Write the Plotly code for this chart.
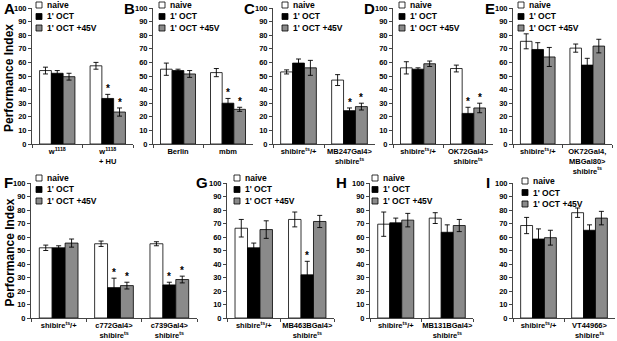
import plotly.graph_objects as go

# ---------------- data ----------------
series_names = ["naive", "1' OCT", "1' OCT +45V"]
series_colors = ["#ffffff", "#000000", "#8a8a8a"]
ST = "shibire<sup>ts</sup>"

cats_A = ["w<sup>1118</sup>", "w<sup>1118</sup><br>+ HU"]
naive_A = [54.0, 57.5]; oct_A = [52.0, 33.5]; v45_A = [49.5, 23.5]
naive_err_A = [2.5, 2.5]; oct_err_A = [2.0, 3.0]; v45_err_A = [2.5, 3.0]
stars_A = [[0, 0, 0], [0, 1, 1]]

cats_B = ["Berlin", "mbm"]
naive_B = [55.0, 52.5]; oct_B = [54.0, 30.0]; v45_B = [51.5, 25.5]
naive_err_B = [4.5, 3.0]; oct_err_B = [1.0, 3.5]; v45_err_B = [2.5, 1.5]
stars_B = [[0, 0, 0], [0, 1, 1]]

cats_C = [ST + "/+", "MB247Gal4><br>" + ST]
naive_C = [53.0, 47.0]; oct_C = [59.5, 24.5]; v45_C = [56.0, 27.5]
naive_err_C = [1.5, 4.0]; oct_err_C = [3.0, 2.0]; v45_err_C = [5.5, 2.5]
stars_C = [[0, 0, 0], [0, 1, 1]]

cats_D = [ST + "/+", "OK72Gal4><br>" + ST]
naive_D = [56.0, 55.5]; oct_D = [55.0, 22.5]; v45_D = [59.0, 26.5]
naive_err_D = [4.5, 2.5]; oct_err_D = [1.0, 4.5]; v45_err_D = [2.0, 3.5]
stars_D = [[0, 0, 0], [0, 1, 1]]

cats_E = [ST + "/+", "OK72Gal4,<br>MBGal80><br>" + ST]
naive_E = [75.5, 70.5]; oct_E = [69.5, 58.0]; v45_E = [64.0, 72.0]
naive_err_E = [5.5, 3.0]; oct_err_E = [5.0, 5.0]; v45_err_E = [7.0, 5.0]
stars_E = [[0, 0, 0], [0, 0, 0]]

cats_F = [ST + "/+", "c772Gal4><br>" + ST, "c739Gal4><br>" + ST]
naive_F = [52.0, 55.0, 55.0]; oct_F = [52.0, 22.5, 24.5]; v45_F = [55.5, 24.0, 28.5]
naive_err_F = [2.0, 2.0, 1.5]; oct_err_F = [1.5, 7.0, 2.0]; v45_err_F = [3.0, 2.5, 2.5]
stars_F = [[0, 0, 0], [0, 1, 1], [0, 1, 1]]

cats_G = [ST + "/+", "MB463BGal4><br>" + ST]
naive_G = [66.5, 73.0]; oct_G = [52.0, 32.0]; v45_G = [65.5, 71.5]
naive_err_G = [6.5, 5.5]; oct_err_G = [3.5, 10.0]; v45_err_G = [6.5, 4.5]
stars_G = [[0, 0, 0], [0, 1, 0]]

cats_H = [ST + "/+", "MB131BGal4><br>" + ST]
naive_H = [69.5, 74.0]; oct_H = [70.5, 63.5]; v45_H = [72.5, 68.5]
naive_err_H = [9.0, 4.0]; oct_err_H = [3.5, 5.5]; v45_err_H = [5.0, 4.5]
stars_H = [[0, 0, 0], [0, 0, 0]]

cats_I = [ST + "/+", "VT44966><br>" + ST]
naive_I = [68.5, 78.0]; oct_I = [58.5, 65.0]; v45_I = [59.5, 74.0]
naive_err_I = [6.0, 3.5]; oct_err_I = [7.5, 4.0]; v45_err_I = [5.5, 5.0]
stars_I = [[0, 0, 0], [0, 0, 0]]

y_ticks = [0, 10, 20, 30, 40, 50, 60, 70, 80, 90, 100]

panels = [
    ("A", cats_A, [naive_A, oct_A, v45_A], [naive_err_A, oct_err_A, v45_err_A], stars_A),
    ("B", cats_B, [naive_B, oct_B, v45_B], [naive_err_B, oct_err_B, v45_err_B], stars_B),
    ("C", cats_C, [naive_C, oct_C, v45_C], [naive_err_C, oct_err_C, v45_err_C], stars_C),
    ("D", cats_D, [naive_D, oct_D, v45_D], [naive_err_D, oct_err_D, v45_err_D], stars_D),
    ("E", cats_E, [naive_E, oct_E, v45_E], [naive_err_E, oct_err_E, v45_err_E], stars_E),
    ("F", cats_F, [naive_F, oct_F, v45_F], [naive_err_F, oct_err_F, v45_err_F], stars_F),
    ("G", cats_G, [naive_G, oct_G, v45_G], [naive_err_G, oct_err_G, v45_err_G], stars_G),
    ("H", cats_H, [naive_H, oct_H, v45_H], [naive_err_H, oct_err_H, v45_err_H], stars_H),
    ("I", cats_I, [naive_I, oct_I, v45_I], [naive_err_I, oct_err_I, v45_err_I], stars_I),
]

# ---------------- layout geometry (pixels) ----------------
W, H = 617, 341
rows_px = [(8, 144), (183, 318)]  # y of 100 and y of 0
x_px = {"A": (32, 133, 0), "B": (153, 253, 0), "C": (273, 375, 0), "D": (393, 493, 0),
        "E": (513, 612, 0), "F": (31, 197, 1), "G": (227, 334, 1), "H": (370, 473, 1),
        "I": (513, 615, 1)}
letter_px = {"A": (2, 9), "B": (122, 9), "C": (242, 9), "D": (362, 9), "E": (483, 9),
             "F": (2, 182), "G": (194, 182), "H": (334, 182), "I": (484, 182)}
legend_px = {"A": (39, 5), "B": (162, 5), "C": (285, 5), "D": (402, 5), "E": (521, 5),
             "F": (39, 178), "G": (237, 178), "H": (375, 178), "I": (525, 181)}
BARGAP = 0.3

FONT = "Liberation Sans, Arial, sans-serif"

def px(x):
    return x / W

def py(y):
    return 1 - y / H

fig = go.Figure()
layout = dict(width=W, height=H, margin=dict(l=0, r=0, t=0, b=0),
              paper_bgcolor="white", plot_bgcolor="white",
              barmode="group", bargap=BARGAP, bargroupgap=0, showlegend=False)
annotations = []
shapes = []

for i, (letter, cats, vals, errs, stars) in enumerate(panels):
    n = i + 1
    xa = "x" if n == 1 else f"x{n}"
    ya = "y" if n == 1 else f"y{n}"
    x0, x1, row = x_px[letter]
    ytop, ybot = rows_px[row]
    for k in range(3):
        fig.add_trace(go.Bar(
            x=cats, y=vals[k], name=series_names[k], xaxis=xa, yaxis=ya,
            marker=dict(color=series_colors[k], line=dict(color="#000000", width=0.8)),
            error_y=dict(type="data", array=errs[k], color="#000000", thickness=0.9, width=2.5),
            showlegend=False, hoverinfo="skip"))
    layout["xaxis" if n == 1 else f"xaxis{n}"] = dict(
        domain=[px(x0), px(x1)], anchor=ya, type="category",
        showline=True, linecolor="#444", linewidth=1, showgrid=False, zeroline=False,
        ticks="outside", ticklen=3, tickcolor="#444", tickson="boundaries",
        tickangle=0, automargin=False,
        tickfont=dict(family=FONT, size=7.5, color="#000", weight="bold"),
        fixedrange=True)
    layout["yaxis" if n == 1 else f"yaxis{n}"] = dict(
        domain=[py(ybot), py(ytop)], anchor=xa, range=[0, 100],
        tickvals=y_ticks, showline=True, linecolor="#444", linewidth=1,
        showgrid=False, zeroline=False, ticks="outside", ticklen=3, tickcolor="#444",
        automargin=False,
        tickfont=dict(family=FONT, size=7.5, color="#000", weight="bold"),
        fixedrange=True)
    # asterisks
    ncat = len(cats)
    catw = (x1 - x0) / ncat
    barw = catw * (1 - BARGAP) / 3
    for c in range(ncat):
        for k in range(3):
            if stars[c][k]:
                annotations.append(dict(
                    x=cats[c], y=vals[k][c] + errs[k][c], xref=xa, yref=ya,
                    text="*", showarrow=False, yanchor="bottom", xshift=(k - 1) * barw,
                    yshift=-2, font=dict(family=FONT, size=10, color="#000", weight="bold")))
    # panel letter
    lx, ly = letter_px[letter]
    annotations.append(dict(x=px(lx), y=py(ly), xref="paper", yref="paper", text=letter,
                            showarrow=False, xanchor="left", yanchor="middle",
                            font=dict(family=FONT, size=15, color="#000", weight="bold")))
    # legend
    gx, gy = legend_px[letter]
    for k in range(3):
        cy = gy + k * 11.5
        shapes.append(dict(type="rect", xref="paper", yref="paper",
                           x0=px(gx - 3), x1=px(gx + 3), y0=py(cy + 3), y1=py(cy - 3),
                           fillcolor=series_colors[k], line=dict(color="#000", width=0.8)))
        annotations.append(dict(x=px(gx + 6), y=py(cy), xref="paper", yref="paper",
                                text=series_names[k], showarrow=False, xanchor="left",
                                yanchor="middle",
                                font=dict(family=FONT, size=8.5, color="#000", weight="bold")))

# y-axis titles
for ymid in [(rows_px[0][0] + rows_px[0][1]) / 2, (rows_px[1][0] + rows_px[1][1]) / 2]:
    annotations.append(dict(x=px(9), y=py(ymid + 2), xref="paper", yref="paper",
                            text="Performance Index", textangle=-90, showarrow=False,
                            xanchor="center", yanchor="middle",
                            font=dict(family=FONT, size=12, color="#000", weight="bold")))

layout["annotations"] = annotations
layout["shapes"] = shapes
fig.update_layout(**layout)
fig.write_html("out.html", config={"displayModeBar": False},
               post_script="document.body.style.margin='0';document.body.style.overflow='hidden';")
